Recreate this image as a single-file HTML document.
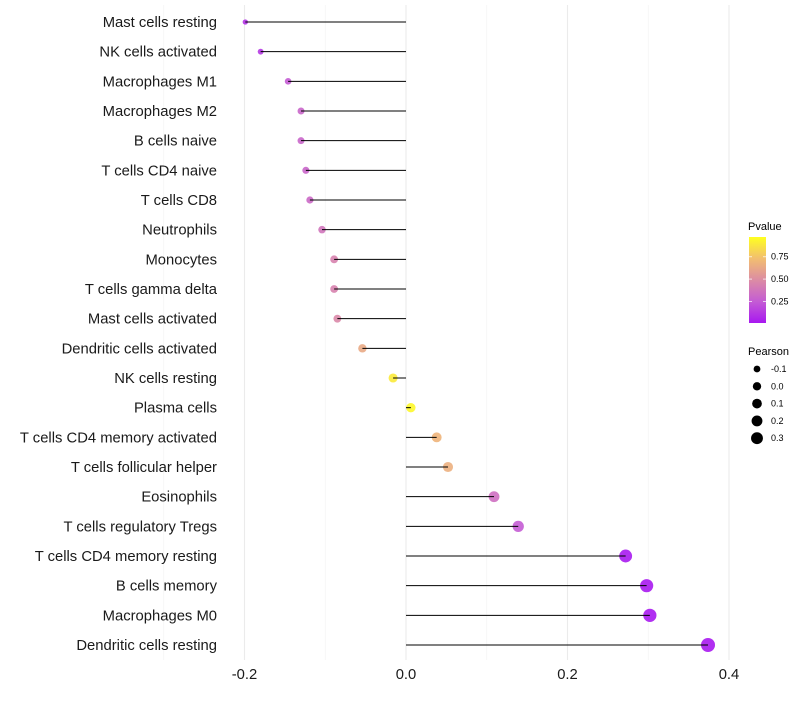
<!DOCTYPE html>
<html><head><meta charset="utf-8"><style>
body{margin:0;background:#fff;font-family:"Liberation Sans",sans-serif}
</style></head><body>
<svg id="chart" width="800" height="700" xmlns="http://www.w3.org/2000/svg" font-family="Liberation Sans, sans-serif">
<g id="grid"></g>
<g id="dots"></g>
<g id="marks"></g>
<g id="ylabels"></g>
<g id="xlabels"></g>
<g id="legend"></g>
</svg>
<script>
const categories=["Mast cells resting","NK cells activated","Macrophages M1","Macrophages M2","B cells naive","T cells CD4 naive","T cells CD8","Neutrophils","Monocytes","T cells gamma delta","Mast cells activated","Dendritic cells activated","NK cells resting","Plasma cells","T cells CD4 memory activated","T cells follicular helper","Eosinophils","T cells regulatory  Tregs ","T cells CD4 memory resting","B cells memory","Macrophages M0","Dendritic cells resting"];
const pearson=[-0.199,-0.18,-0.146,-0.13,-0.13,-0.124,-0.119,-0.104,-0.089,-0.089,-0.085,-0.054,-0.016,0.006,0.038,0.052,0.109,0.139,0.272,0.298,0.302,0.374];
const pvalues=[0.1,0.12,0.25,0.3,0.3,0.3,0.32,0.38,0.45,0.45,0.48,0.65,0.92,0.97,0.7,0.68,0.35,0.25,0.01,0.005,0.005,0.001];
const xTicks=[-0.2,0,0.2,0.4];
const xTickLabels=["-0.2","0.0","0.2","0.4"];
const pTicks=[0.25,0.5,0.75];
const pTickLabels=["0.25","0.50","0.75"];
const sizeLegend=[-0.1,0,0.1,0.2,0.3];
const sizeLegendLabels=["-0.1","0.0","0.1","0.2","0.3"];
const NS="http://www.w3.org/2000/svg";
const xs=v=>406+v*807.5;
const ys=i=>22+i*(645-22)/21;
const rs=v=>Math.sqrt(Math.max(2.5,21.7+73*v));
const stops=[[0,[168,24,240]],[0.25,[196,92,212]],[0.5,[220,140,164]],[0.75,[242,190,112]],[1,[255,255,32]]];
function col(p){for(let k=0;k<stops.length-1;k++){const a=stops[k],b=stops[k+1];if(p<=b[0]){const t=(p-a[0])/(b[0]-a[0]);const c=a[1].map((x,j)=>Math.round(x+(b[1][j]-x)*t));return`rgb(${c})`;}}return"rgb(255,255,32)";}
function mk(tag,attrs,parent){const e=document.createElementNS(NS,tag);for(const k in attrs)e.setAttribute(k,attrs[k]);parent.appendChild(e);return e;}
const grid=document.getElementById('grid'),marks=document.getElementById('marks'),dots=document.getElementById('dots'),yl=document.getElementById('ylabels'),xl=document.getElementById('xlabels'),lg=document.getElementById('legend');
[-0.3,-0.1,0.1,0.3].forEach(v=>{const l=mk('line',{x1:xs(v),x2:xs(v),y1:5,y2:660,stroke:'#f3f3f3','stroke-width':0.6},grid);});
xTicks.forEach((v,i)=>{const l=mk('line',{x1:xs(v),x2:xs(v),y1:5,y2:660,stroke:'#ebebeb','stroke-width':1.1},grid);
const t=mk('text',{x:xs(v),y:679,'text-anchor':'middle','font-size':14.8,fill:'#1a1a1a'},xl);t.textContent=xTickLabels[i];});
categories.forEach((c,i)=>{const y=ys(i);
const d=mk('circle',{cx:xs(pearson[i]),cy:y,r:rs(pearson[i]),fill:col(pvalues[i]),'fill-opacity':0.9},dots);
const l=mk('line',{x1:xs(0),x2:xs(pearson[i]),y1:y,y2:y,stroke:'#000','stroke-width':1},marks);
const t=mk('text',{x:217,y:y+5,'text-anchor':'end','font-size':14.8,fill:'#1a1a1a'},yl);t.textContent=c;});
let t=mk('text',{x:748,y:230,'font-size':11},lg);t.textContent='Pvalue';
const defs=mk('defs',{},lg);const gr=mk('linearGradient',{id:'pg',x1:0,y1:1,x2:0,y2:0},defs);
stops.forEach(s=>mk('stop',{offset:s[0],'stop-color':col(s[0])},gr));
const pY=p=>323-(p-0.01)/0.96*86;
const bar=mk('rect',{x:749,y:237,width:17,height:86,fill:'url(#pg)'},lg);
pTicks.forEach((p,i)=>{mk('line',{x1:749,x2:752,y1:pY(p),y2:pY(p),stroke:'#fff','stroke-opacity':0.7},lg);mk('line',{x1:763,x2:766,y1:pY(p),y2:pY(p),stroke:'#fff','stroke-opacity':0.7},lg);
const tt=mk('text',{x:771,y:pY(p)+3,'font-size':9},lg);tt.textContent=pTickLabels[i];});
t=mk('text',{x:748,y:355,'font-size':11},lg);t.textContent='Pearson';
sizeLegend.forEach((v,i)=>{const y=369+i*17.3;const c=mk('circle',{cx:757,cy:y,r:rs(v)*0.9,fill:'#000'},lg);
const tt=mk('text',{x:771,y:y+3,'font-size':9},lg);tt.textContent=sizeLegendLabels[i];});
</script>
</body></html>
